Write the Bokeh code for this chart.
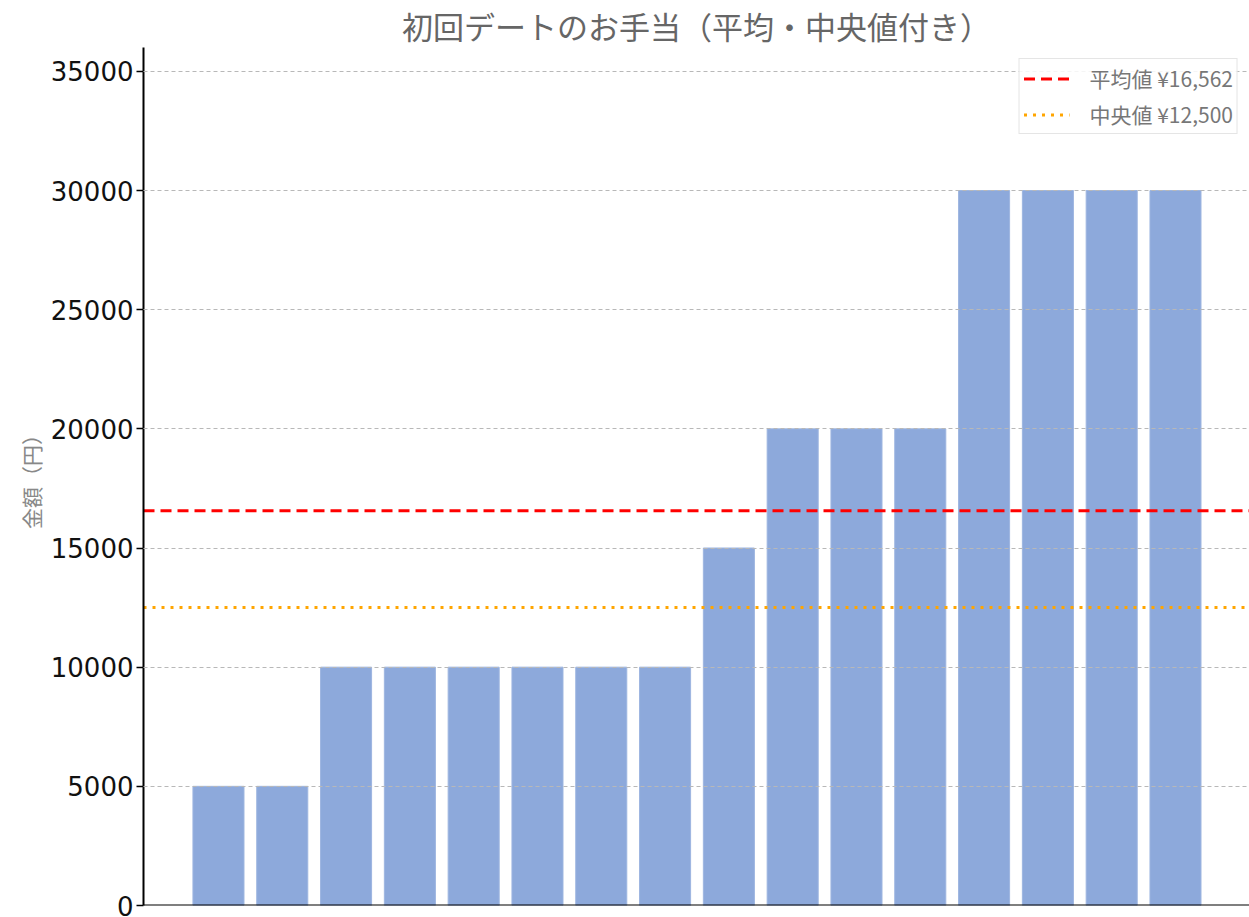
from bokeh.plotting import figure
from bokeh.models import Span, Legend, LegendItem, Range1d, FixedTicker, ColumnDataSource
from bokeh.embed import file_html
from bokeh.resources import INLINE

# data
values = [5000, 5000, 10000, 10000, 10000, 10000, 10000, 10000, 15000,
          20000, 20000, 20000, 30000, 30000, 30000, 30000]
y_ticks = [0, 5000, 10000, 15000, 20000, 25000, 30000, 35000]
title_text = "初回デートのお手当（平均・中央値付き）"
y_label = "金額（円）"

idx = list(range(len(values)))
mean_val = sum(values) / len(values)
sv = sorted(values)
n = len(sv)
median_val = (sv[n // 2 - 1] + sv[n // 2]) / 2 if n % 2 == 0 else sv[n // 2]

JP = "Noto Sans CJK JP"

x0, x1 = -1.175, 16.16
p = figure(width=1249, height=917, output_backend="svg", toolbar_location=None,
           x_range=Range1d(x0, x1), y_range=Range1d(0, max(values) * 1.2),
           min_border_left=143, min_border_right=0, min_border_top=46,
           min_border_bottom=12)

p.title.text = title_text
p.title.align = "center"
p.title.text_font = JP
p.title.text_font_size = "31px"
p.title.text_font_style = "normal"
p.title.text_color = "#666666"
p.title.offset = -8
p.title.standoff = 0

src = ColumnDataSource(dict(x=idx, top=values))
p.vbar(x="x", top="top", width=0.8, source=src, fill_color="#8DA9DB",
       line_color="#9DB5E0", line_width=1)

# axes
p.xaxis.visible = False
bottom_line = Span(location=0, dimension="width", line_color="black", line_width=2)

p.yaxis.ticker = FixedTicker(ticks=y_ticks)
p.yaxis.minor_tick_line_color = None
p.yaxis.major_tick_out = 7
p.yaxis.major_tick_in = 0
p.yaxis.major_tick_line_width = 1.5
p.yaxis.major_tick_line_color = "black"
p.yaxis.axis_line_width = 2
p.yaxis.axis_line_color = "black"
p.yaxis.major_label_text_font = "DejaVu Sans"
p.yaxis.major_label_text_font_size = "26px"
p.yaxis.major_label_text_color = "#111111"
p.yaxis.major_label_standoff = 3
p.yaxis.axis_label = y_label
p.yaxis.axis_label_text_font = JP
p.yaxis.axis_label_text_font_size = "21px"
p.yaxis.axis_label_text_font_style = "normal"
p.yaxis.axis_label_text_color = "#888888"
p.yaxis.axis_label_standoff = 2

p.xgrid.grid_line_color = None
p.ygrid.grid_line_color = "#b8b8b8"
p.ygrid.grid_line_dash = "4 3"
p.ygrid.grid_line_width = 1
p.ygrid.level = "annotation"
p.outline_line_color = None

# mean / median lines across the full x range
r_mean = p.line(x=[x0, x1], y=[mean_val, mean_val], line_color="red",
                line_width=3, line_dash="11 6")
r_med = p.line(x=[x0, x1], y=[median_val, median_val], line_color="orange",
               line_width=3, line_dash="3 6")
p.add_layout(bottom_line)

legend = Legend(items=[
    LegendItem(label=f"平均値 ¥{int(mean_val):,}", renderers=[r_mean]),
    LegendItem(label=f"中央値 ¥{int(median_val):,}", renderers=[r_med]),
], location="top_right")
legend.label_text_font = JP
legend.label_text_font_size = "21px"
legend.label_text_color = "#777777"
legend.glyph_width = 46
legend.glyph_height = 25
legend.label_height = 25
legend.label_standoff = 20
legend.spacing = 6
legend.padding = 4
legend.margin = 11
legend.border_line_color = "#cccccc"
legend.border_line_width = 1.5
legend.background_fill_alpha = 0.85
p.add_layout(legend)

open("out.html", "w").write(file_html(p, INLINE))
